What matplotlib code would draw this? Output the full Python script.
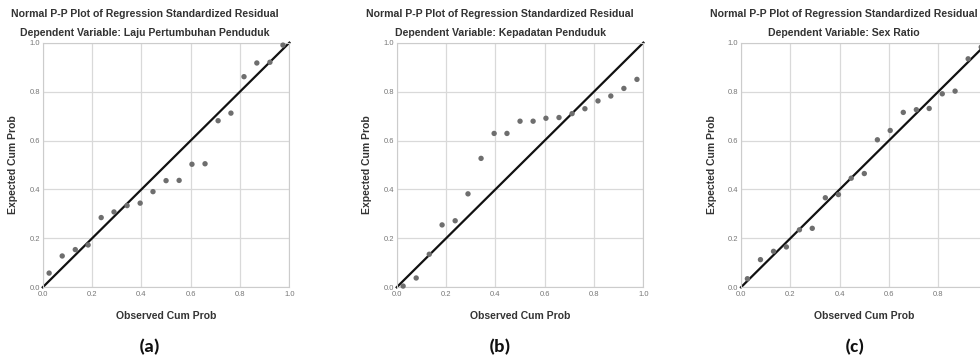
"""Normal P-P plots of standardized residuals for three regression models."""

import matplotlib.pyplot as plt

plt.rcParams["font.family"] = ["Liberation Sans", "DejaVu Sans"]

OBSERVED = [0.026, 0.079, 0.132, 0.184, 0.237, 0.289, 0.342, 0.395, 0.447, 0.500,
            0.553, 0.605, 0.658, 0.711, 0.763, 0.816, 0.868, 0.921, 0.974]

EXPECTED_LAJU = [0.058, 0.128, 0.154, 0.173, 0.285, 0.308, 0.334, 0.344, 0.391, 0.436,
                 0.437, 0.503, 0.505, 0.681, 0.712, 0.861, 0.917, 0.920, 0.990]
EXPECTED_KEPADATAN = [0.005, 0.038, 0.135, 0.255, 0.272, 0.382, 0.527, 0.629, 0.629, 0.679,
                      0.679, 0.691, 0.694, 0.710, 0.730, 0.762, 0.782, 0.813, 0.850]
EXPECTED_SEX = [0.035, 0.113, 0.147, 0.165, 0.235, 0.241, 0.366, 0.379, 0.446, 0.465,
                0.603, 0.641, 0.715, 0.726, 0.731, 0.791, 0.802, 0.934, 0.982]

DEPENDENT = ["Laju Pertumbuhan Penduduk", "Kepadatan Penduduk", "Sex Ratio"]
PANEL_LABELS = ["(a)", "(b)", "(c)"]
TICKS = [0.0, 0.2, 0.4, 0.6, 0.8, 1.0]

series = [EXPECTED_LAJU, EXPECTED_KEPADATAN, EXPECTED_SEX]
lefts = [0.0436, 0.4048, 0.7561]
title_x = [145, 500, 844]
label_x = [150, 500, 855]

fig = plt.figure(figsize=(9.8, 3.62), dpi=100)

for i, expected in enumerate(series):
    ax = fig.add_axes([lefts[i], 0.2064, 0.2517, 0.6757])
    ax.set_xlim(0, 1)
    ax.set_ylim(0, 1)
    ax.set_xticks(TICKS)
    ax.set_yticks(TICKS)
    ax.set_xticklabels([f"{t:.1f}" for t in TICKS])
    ax.set_yticklabels([f"{t:.1f}" for t in TICKS])
    ax.tick_params(length=0, labelsize=5.5, labelcolor="#777777")
    ax.tick_params(axis="x", pad=3)
    ax.tick_params(axis="y", pad=2)
    ax.grid(color="#d9d9d9", lw=0.9)
    ax.set_axisbelow(True)
    for s in ax.spines.values():
        s.set_color("#cccccc")
        s.set_linewidth(0.8)
    ax.plot([0, 1], [0, 1], color="#111111", lw=1.6, zorder=2, clip_on=False)
    ax.scatter(OBSERVED, expected, s=15, color="#6e6e6e", edgecolors="none", zorder=3, clip_on=False)
    ax.set_xlabel("Observed Cum Prob", fontsize=7.5, fontweight="bold", color="#333333", labelpad=9)
    ax.set_ylabel("Expected Cum Prob", fontsize=7.5, fontweight="bold", color="#333333", labelpad=8)

    fig.text(title_x[i] / 980, 1 - 14 / 362, "Normal P-P Plot of Regression Standardized Residual",
             ha="center", va="center", fontsize=7.6, fontweight="bold", color="#333333")
    fig.text(title_x[i] / 980, 1 - 33 / 362, f"Dependent Variable: {DEPENDENT[i]}",
             ha="center", va="center", fontsize=7.6, fontweight="bold", color="#333333")
    fig.text(label_x[i] / 980, 1 - 347 / 362, PANEL_LABELS[i],
             ha="center", va="center", fontsize=14, fontweight="bold", color="#111111",
             family=["Carlito", "Liberation Sans", "DejaVu Sans"])

fig.savefig("out.png", dpi=100)
